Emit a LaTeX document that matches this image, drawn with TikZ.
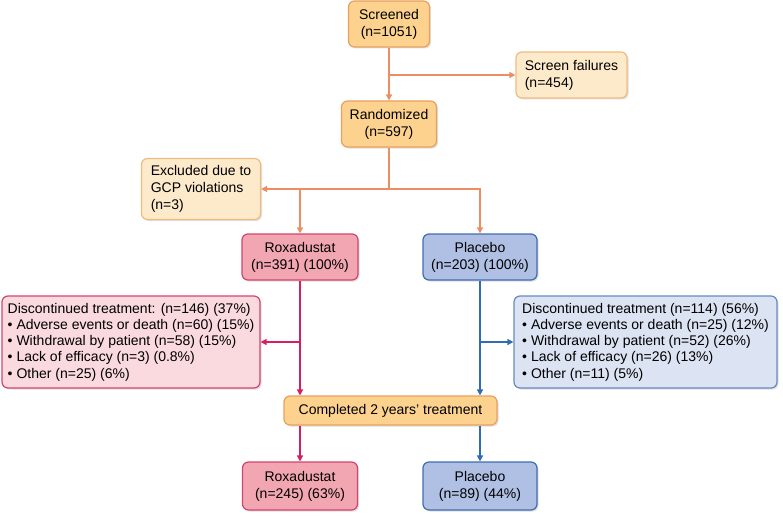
\documentclass[tikz,border=0pt]{standalone}
\usepackage{fontspec}
\setmainfont{Liberation Sans}
\usetikzlibrary{arrows.meta,shadows}

\definecolor{orfill}{HTML}{FCD28E}
\definecolor{ordraw}{HTML}{E8A060}
\definecolor{orline}{HTML}{EE8D62}
\definecolor{ltfill}{HTML}{FDEACB}
\definecolor{ltdraw}{HTML}{EFBC80}
\definecolor{rxfill}{HTML}{F2A6B1}
\definecolor{rxdraw}{HTML}{D4446C}
\definecolor{rxline}{HTML}{D81E63}
\definecolor{rxlite}{HTML}{FADADF}
\definecolor{plfill}{HTML}{AFC0E4}
\definecolor{pldraw}{HTML}{3F6DB2}
\definecolor{plline}{HTML}{2F6CB3}
\definecolor{pllite}{HTML}{DCE3F2}

\tikzset{
  box/.style={rounded corners=6pt, line width=1.2pt, align=center,
    font=\fontsize{14}{17}\selectfont, inner sep=3pt,
    drop shadow={opacity=0.25, shadow xshift=1.5pt, shadow yshift=-1.5pt}},
  orbox/.style={box, fill=orfill, draw=ordraw},
  ltbox/.style={box, fill=ltfill, draw=ltdraw, align=left},
  rxbox/.style={box, fill=rxfill, draw=rxdraw},
  rxlist/.style={box, fill=rxlite, draw=rxdraw, align=left, font=\fontsize{14}{16.3}\selectfont},
  plbox/.style={box, fill=plfill, draw=pldraw},
  pllist/.style={box, fill=pllite, draw=pldraw!80, align=left, font=\fontsize{14}{16.3}\selectfont},
  flow/.style={line width=1.6pt, -{Triangle[length=6pt,width=6pt]}},
}

\begin{document}
\begin{tikzpicture}[x=1pt, y=-1pt]
		\useasboundingbox (0,0) rectangle (783,516);

		% Screening
		\node[orbox, minimum width=81pt, minimum height=46pt] (scr) at (389,24) {Screened\\(n=1051)};
		\node[ltbox, minimum width=111pt, minimum height=46pt] (fail) at (571.5,75) {Screen failures\\(n=454)};
		\node[orbox, minimum width=95pt, minimum height=46pt] (rand) at (389,124) {Randomized\\(n=597)};
		\node[ltbox, minimum width=119pt, minimum height=61pt] (excl) at (201,189) {Excluded due to\\GCP violations\\(n=3)};

		% Arms
		\node[rxbox, minimum width=116pt, minimum height=46pt] (roxa) at (300,257) {Roxadustat\\(n=391) (100\%)};
		\node[plbox, minimum width=114pt, minimum height=46pt] (plac) at (480,257) {Placebo\\(n=203) (100\%)};

		% Discontinued
		\node[rxlist, minimum width=258pt, minimum height=92pt] (discl) at (131,342) {Discontinued treatment: (n=146) (37\%)\\
			\textbullet{} Adverse events or death (n=60) (15\%)\\
			\textbullet{} Withdrawal by patient (n=58) (15\%)\\
			\textbullet{} Lack of efficacy (n=3) (0.8\%)\\
			\textbullet{} Other (n=25) (6\%)};
		\node[pllist, minimum width=263pt, minimum height=92pt] (discr) at (645.5,342) {Discontinued treatment (n=114) (56\%)\\
			\textbullet{} Adverse events or death (n=25) (12\%)\\
			\textbullet{} Withdrawal by patient (n=52) (26\%)\\
			\textbullet{} Lack of efficacy (n=26) (13\%)\\
			\textbullet{} Other (n=11) (5\%)};

		% Completed
		\node[orbox, minimum width=213pt, minimum height=29pt] (comp) at (390.5,410.5) {Completed 2 years' treatment};
		\node[rxbox, minimum width=115pt, minimum height=48pt] (roxb) at (300,486) {Roxadustat\\(n=245) (63\%)};
		\node[plbox, minimum width=114pt, minimum height=48pt] (placb) at (480,486) {Placebo\\(n=89) (44\%)};

		% junctions
		\coordinate (sj) at (scr.south |- fail.west);
		\coordinate (rj) at (rand.south |- excl.east);

		% Flechas
		\draw[flow, orline] (scr) -- (rand);
		\draw[flow, orline] (sj) -- (fail.west);
		\draw[line width=1.6pt, orline] (rand) -- (rj);
		\draw[flow, orline] (rj) -| (roxa.north);
		\draw[flow, orline] (rj) -| (plac.north);
		\draw[flow, orline] (roxa.north |- excl.east) -- (excl.east);

		\draw[flow, rxline] (roxa) -- (roxa.south |- comp.north);
		\draw[flow, rxline] (roxa.south |- discl.east) -- (discl.east);
		\draw[flow, rxline] (roxa.south |- comp.south) -- (roxa.south |- roxb.north);

		\draw[flow, plline] (plac) -- (plac.south |- comp.north);
		\draw[flow, plline] (plac.south |- discr.west) -- (discr.west);
		\draw[flow, plline] (plac.south |- comp.south) -- (plac.south |- placb.north);
	\end{tikzpicture}
\end{document}
